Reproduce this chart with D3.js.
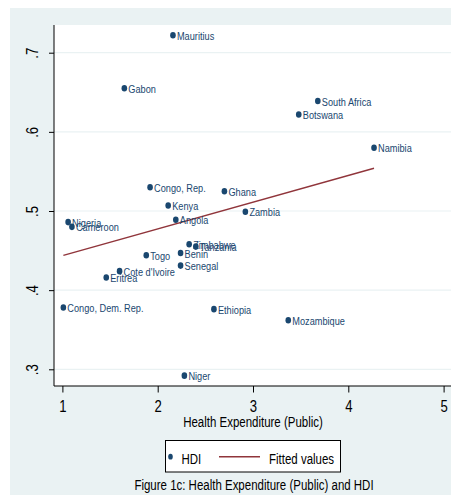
<!DOCTYPE html>
<html>
<head>
<meta charset="utf-8">
<script src="https://cdn.jsdelivr.net/npm/d3@7"></script>
<style>
  body { margin: 0; background: #ffffff; }
  svg text { font-family: 'Liberation Sans', Arial, sans-serif; }
</style>
</head>
<body>
<svg id="chart" width="451" height="495"></svg>
<script>
// Public health expenditure vs. Human Development Index, African countries
const countries = ["Mauritius", "Gabon", "South Africa", "Botswana", "Namibia",
  "Congo, Rep.", "Ghana", "Kenya", "Zambia", "Angola", "Nigeria", "Cameroon",
  "Zimbabwe", "Tanzania", "Benin", "Togo", "Senegal", "Cote d'Ivoire", "Eritrea",
  "Congo, Dem. Rep.", "Ethiopia", "Mozambique", "Niger"];
const healthExp = [2.16, 1.65, 3.68, 3.48, 4.27,
  1.92, 2.70, 2.11, 2.92, 2.19, 1.06, 1.10,
  2.33, 2.40, 2.24, 1.88, 2.24, 1.60, 1.46,
  1.01, 2.59, 3.37, 2.28];
const hdi = [0.722, 0.655, 0.639, 0.622, 0.580,
  0.530, 0.525, 0.507, 0.499, 0.489, 0.486, 0.480,
  0.458, 0.455, 0.447, 0.444, 0.431, 0.424, 0.416,
  0.378, 0.376, 0.362, 0.292];

// Fitted regression line endpoints
const fitX = [1.01, 4.27];
const fitY = [0.444, 0.554];

const xTicks = [1, 2, 3, 4, 5];
const yTicks = [0.3, 0.4, 0.5, 0.6, 0.7];
const yTickLabels = [".3", ".4", ".5", ".6", ".7"];

const navy = "#1a476f";
const maroon = "#90353b";
const bg = "#eaf2f3";
const squeeze = 0.82; // condensed lettering

const svg = d3.select("#chart");

// Place a condensed text at (px, py)
function narrowText(parent, px, py, str) {
  return parent.append("text")
    .attr("transform", `translate(${px},${py}) scale(${squeeze},1)`)
    .text(str);
}

// Outer graph region
svg.append("rect").attr("x", 10).attr("y", 8).attr("width", 441).attr("height", 487).attr("fill", bg);

// Plot region
const plot = { left: 54, right: 451, top: 25, bottom: 386 };
svg.append("rect")
  .attr("x", plot.left).attr("y", plot.top)
  .attr("width", plot.right - plot.left).attr("height", plot.bottom - plot.top)
  .attr("fill", "#ffffff");

const x = d3.scaleLinear().domain([1, 5]).range([62.4, 443.6]);
const y = d3.scaleLinear().domain([0.3, 0.7]).range([369.3, 52.7]);

// Horizontal grid lines
svg.append("g").selectAll("line").data(yTicks).join("line")
  .attr("x1", plot.left).attr("x2", plot.right)
  .attr("y1", d => y(d)).attr("y2", d => y(d))
  .attr("stroke", bg).attr("stroke-width", 1.2);

// Y axis
const yAxis = d3.axisLeft(y).tickValues(yTicks).tickSize(5).tickPadding(8)
  .tickFormat((d, i) => yTickLabels[i]);
const gy = svg.append("g").attr("transform", `translate(${plot.left},0)`).call(yAxis);
gy.select(".domain").attr("d", `M0,${plot.top}V${plot.bottom}`).attr("stroke", "#000").attr("stroke-width", 1);
gy.selectAll(".tick line").attr("stroke", "#000");
gy.selectAll(".tick text")
  .attr("font-size", 16).attr("fill", "#000")
  .attr("text-anchor", "middle")
  .attr("x", null).attr("dy", null)
  .attr("transform", `translate(-16.5,0) rotate(-90) scale(${squeeze},1)`);

// X axis
const xAxis = d3.axisBottom(x).tickValues(xTicks).tickSize(6.5).tickPadding(8.5).tickFormat(d3.format("d"));
const gx = svg.append("g").attr("transform", `translate(0,${plot.bottom})`).call(xAxis);
gx.select(".domain").attr("d", `M${plot.left},0H${plot.right}`).attr("stroke", "#000").attr("stroke-width", 1);
gx.selectAll(".tick line").attr("stroke", "#000");
gx.selectAll(".tick text").attr("font-size", 16).attr("fill", "#000")
  .attr("transform", `scale(${squeeze},1)`);

// Axis title
narrowText(svg, x(3), 426.5, "Health Expenditure (Public)")
  .attr("text-anchor", "middle").attr("font-size", 14).attr("fill", "#000");

// Fitted line
const fitLine = d3.line().x(d => x(d[0])).y(d => y(d[1]));
svg.append("path").datum(fitX.map((v, i) => [v, fitY[i]]))
  .attr("d", fitLine).attr("fill", "none").attr("stroke", maroon).attr("stroke-width", 1.4);

// Points with country labels
const pts = countries.map((c, i) => ({ name: c, hx: healthExp[i], hdi: hdi[i] }));
const gp = svg.append("g");
gp.selectAll("ellipse").data(pts).join("ellipse")
  .attr("cx", d => x(d.hx)).attr("cy", d => y(d.hdi)).attr("rx", 2.8).attr("ry", 3.3).attr("fill", navy);
gp.selectAll("text").data(pts).join("text")
  .attr("transform", d => `translate(${x(d.hx) + 4},${y(d.hdi) + 4.6}) scale(0.8,1)`)
  .attr("font-size", 11.5).attr("fill", navy).text(d => d.name);

// Legend
const lg = svg.append("g");
lg.append("rect").attr("x", 165.5).attr("y", 440.5).attr("width", 175).attr("height", 31.5)
  .attr("fill", "#fff").attr("stroke", "#000").attr("stroke-width", 1);
lg.append("ellipse").attr("cx", 170.5).attr("cy", 456.7).attr("rx", 2.3).attr("ry", 2.9).attr("fill", navy);
narrowText(lg, 181.5, 463.5, "HDI").attr("font-size", 14).attr("fill", "#000");
lg.append("line").attr("x1", 219).attr("x2", 260).attr("y1", 456.7).attr("y2", 456.7)
  .attr("stroke", maroon).attr("stroke-width", 1.4);
narrowText(lg, 269, 463.5, "Fitted values").attr("font-size", 14).attr("fill", "#000");

// Caption
narrowText(svg, 254, 490, "Figure 1c: Health Expenditure (Public) and HDI")
  .attr("text-anchor", "middle").attr("font-size", 14).attr("fill", "#000");
</script>
</body>
</html>
